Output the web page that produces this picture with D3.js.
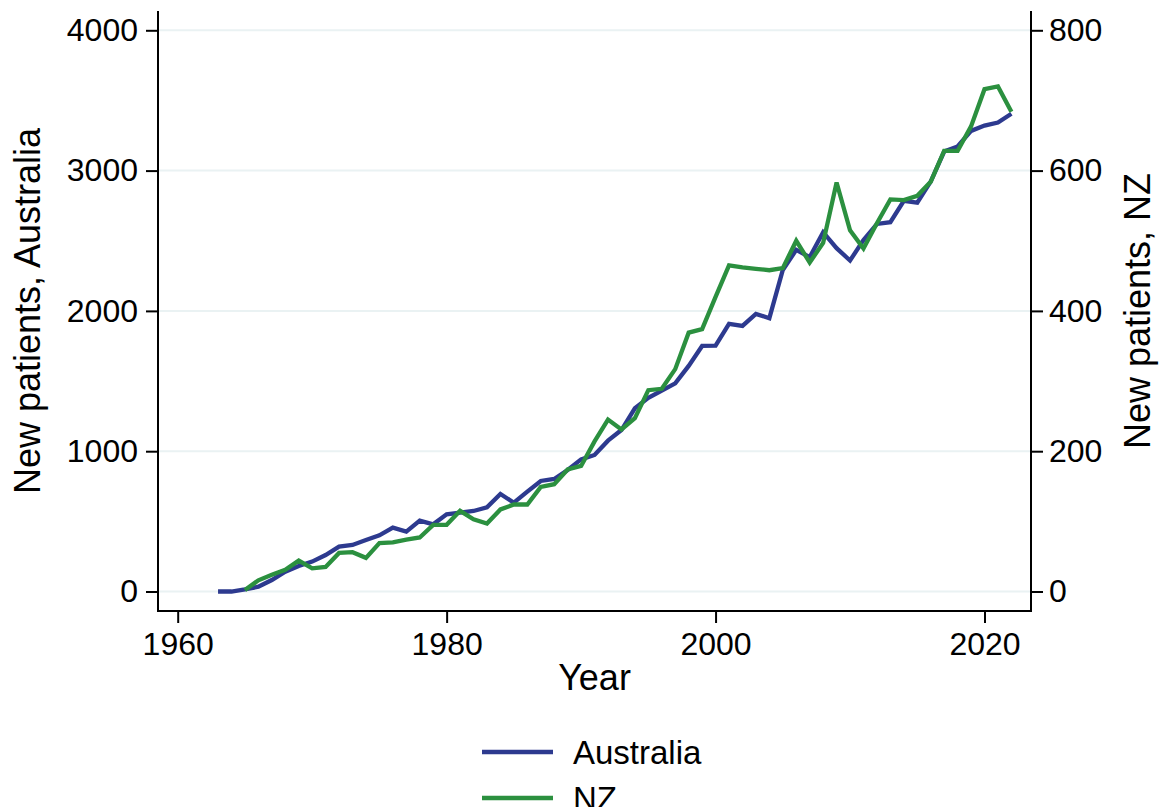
<!DOCTYPE html>
<html>
<head>
<meta charset="utf-8">
<script src="https://cdn.jsdelivr.net/npm/d3@7"></script>
<style>
  body { margin: 0; background: #fff; }
  svg { display: block; font-family: Arial, "Liberation Sans", sans-serif; }
</style>
</head>
<body>
<svg id="chart"></svg>
<script>
// data
var years = d3.range(1963, 2023);
var ausValues = [0, 0, 15, 34, 82, 141, 182, 213, 260, 320, 332, 367, 400, 455, 427, 505, 479,
  550, 562, 574, 600, 695, 633, 712, 788, 802, 866, 942, 973, 1075, 1151, 1306, 1380, 1432,
  1484, 1608, 1750, 1753, 1907, 1893, 1979, 1948, 2292, 2435, 2383, 2561, 2447, 2359, 2505,
  2620, 2632, 2784, 2772, 2922, 3136, 3172, 3283, 3321, 3343, 3405];
var nzValues = [null, null, 2, 16, 24, 31, 44, 33, 35, 55, 56, 48, 69, 70, 74, 77, 95,
  95, 115, 103, 97, 117, 124, 124, 149, 153, 174, 179, 214, 245, 231, 247, 287, 289,
  317, 369, 374, 420, 465, 462, 460, 458, 461, 500, 469, 497, 583, 515, 489,
  525, 559, 558, 564, 584, 628, 628, 663, 716, 720, 684];
var xTicks = [1960, 1980, 2000, 2020];
var ausTicks = [0, 1000, 2000, 3000, 4000];
var nzTicks = [0, 200, 400, 600, 800];
var seriesNames = ["Australia", "NZ"];

var width = 1159, height = 807;
var plotL = 158, plotR = 1031, plotT = 11, plotB = 611;
var blue = "#2d3a8f", green = "#2b903f", grid = "#eaf2f3";

var svg = d3.select("#chart").attr("width", width).attr("height", height);

var x = d3.scaleLinear().domain([1960, 2020]).range([177.7, 984.5]);
var yA = d3.scaleLinear().domain([0, 4000]).range([591.5, 30.3]);
var yN = d3.scaleLinear().domain([0, 800]).range([591.5, 30.3]);

// gridlines
svg.append("g").selectAll("line").data(ausTicks).enter().append("line")
  .attr("x1", plotL).attr("x2", plotR)
  .attr("y1", function (d) { return yA(d); })
  .attr("y2", function (d) { return yA(d); })
  .attr("stroke", grid).attr("stroke-width", 2);

// axes
var xAxis = d3.axisBottom(x).tickValues(xTicks).tickSize(12).tickPadding(8).tickFormat(d3.format("d"));
var leftAxis = d3.axisLeft(yA).tickValues(ausTicks).tickSize(12).tickPadding(8).tickFormat(d3.format("d"));
var rightAxis = d3.axisRight(yN).tickValues(nzTicks).tickSize(12).tickPadding(6).tickFormat(d3.format("d"));

function style(g) {
  g.select(".domain").remove();
  g.selectAll(".tick line").attr("stroke", "#000").attr("stroke-width", 2);
  g.selectAll(".tick text").attr("fill", "#000").style("font-size", "32px")
    .style("font-family", "Arial, 'Liberation Sans', sans-serif");
}
svg.append("g").attr("transform", "translate(0," + plotB + ")").call(xAxis).call(style)
  .selectAll(".tick text").attr("dy", null).attr("y", 44);
svg.append("g").attr("transform", "translate(" + plotL + ",0)").call(leftAxis).call(style);
svg.append("g").attr("transform", "translate(" + plotR + ",0)").call(rightAxis).call(style);

// frame: left, bottom, right
svg.append("path")
  .attr("d", "M" + plotL + "," + plotT + "V" + plotB + "H" + plotR + "V" + plotT)
  .attr("fill", "none").attr("stroke", "#000").attr("stroke-width", 2);

// lines
var ausLine = d3.line()
  .x(function (d, i) { return x(years[i]); })
  .y(function (d) { return yA(d); });
var nzLine = d3.line()
  .defined(function (d) { return d !== null; })
  .x(function (d, i) { return x(years[i]); })
  .y(function (d) { return yN(d); });

svg.append("path").datum(ausValues).attr("d", ausLine)
  .attr("fill", "none").attr("stroke", blue).attr("stroke-width", 4.3).attr("stroke-linejoin", "miter");
svg.append("path").datum(nzValues).attr("d", nzLine)
  .attr("fill", "none").attr("stroke", green).attr("stroke-width", 4.3).attr("stroke-linejoin", "miter");

// titles
var midY = (plotT + plotB) / 2;
svg.append("text").attr("x", (plotL + plotR) / 2).attr("y", 690)
  .attr("text-anchor", "middle").style("font-size", "36px").text("Year");
svg.append("text").attr("transform", "translate(40," + midY + ") rotate(-90)")
  .attr("text-anchor", "middle").style("font-size", "36px").text("New patients, Australia");
svg.append("text").attr("transform", "translate(1150," + midY + ") rotate(-90)")
  .attr("text-anchor", "middle").style("font-size", "36px").text("New patients, NZ");

// legend
var legendColors = [blue, green];
var leg = svg.append("g").selectAll("g").data(seriesNames).enter().append("g")
  .attr("transform", function (d, i) { return "translate(0," + (752 + i * 46) + ")"; });
leg.append("line").attr("x1", 482).attr("x2", 553).attr("y1", 0).attr("y2", 0)
  .attr("stroke", function (d, i) { return legendColors[i]; }).attr("stroke-width", 4.3);
leg.append("text").attr("x", 573).attr("y", 0).attr("dy", "0.35em")
  .style("font-size", "33px").text(function (d) { return d; });
</script>
</body>
</html>
